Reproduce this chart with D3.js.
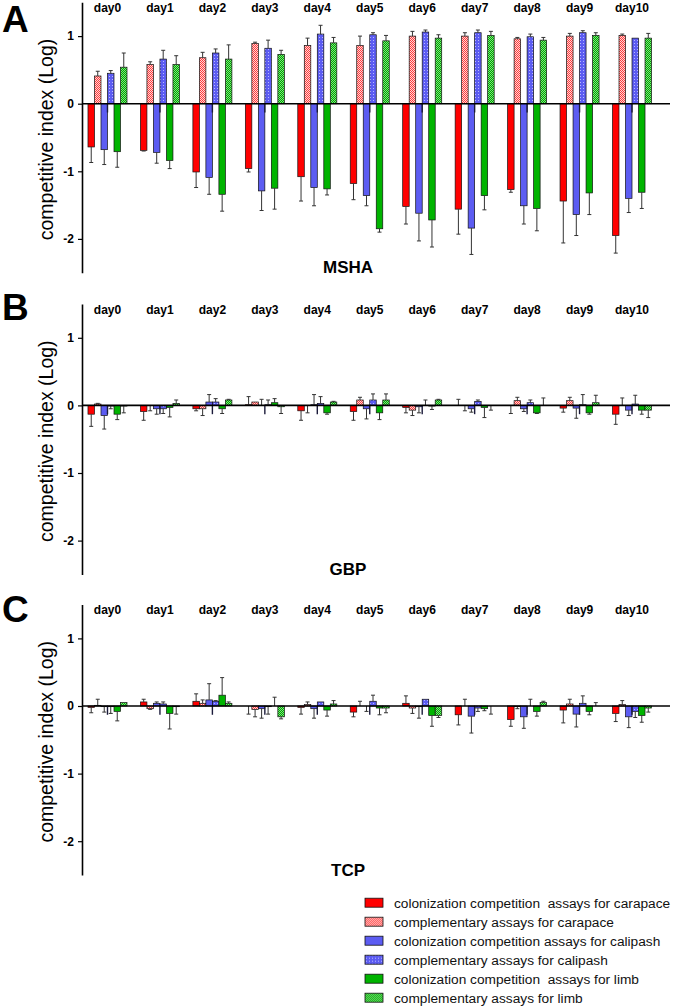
<!DOCTYPE html>
<html>
<head>
<meta charset="utf-8">
<script src="https://cdn.jsdelivr.net/npm/d3@7"></script>
<style>
  body { margin: 0; background: #fff; }
  svg { font-family: "Liberation Sans", Arial, sans-serif; }
  .legend text { white-space: pre; }
</style>
</head>
<body>
<svg id="chart" width="680" height="1008"></svg>
<script>
var days = ["day0", "day1", "day2", "day3", "day4", "day5", "day6", "day7", "day8", "day9", "day10"];
var yTicks = [1, 0, -1, -2];

var seriesNames = [
    "colonization competition  assays for carapace",
    "complementary assays for carapace",
    "colonization competition assays for calipash",
    "complementary assays for calipash",
    "colonization competition  assays for limb",
    "complementary assays for limb"
];

// rows: carapace, carapace compl., calipash, calipash compl., limb, limb compl.
var mshaMean = [
    [-0.64, -0.69, -1.01, -0.96, -1.08, -1.18, -1.52, -1.56, -1.27, -1.44, -1.95],
    [0.41, 0.58, 0.68, 0.89, 0.86, 0.86, 1.00, 1.00, 0.96, 1.00, 1.01],
    [-0.68, -0.72, -1.09, -1.29, -1.24, -1.36, -1.62, -1.84, -1.51, -1.64, -1.40],
    [0.45, 0.66, 0.75, 0.82, 1.03, 1.02, 1.06, 1.05, 0.99, 1.05, 0.97],
    [-0.71, -0.84, -1.34, -1.25, -1.26, -1.85, -1.72, -1.36, -1.55, -1.32, -1.31],
    [0.54, 0.58, 0.66, 0.73, 0.90, 0.93, 0.97, 1.01, 0.94, 1.01, 0.97]
];
// end of each error bar
var mshaErr = [
    [-0.87, -0.70, -1.24, -1.01, -1.44, -1.42, -1.78, -1.93, -1.31, -2.06, -2.21],
    [0.48, 0.62, 0.76, 0.91, 0.97, 1.00, 1.07, 1.05, 0.98, 1.04, 1.03],
    [-0.90, -0.88, -1.34, -1.58, -1.51, -1.51, -2.03, -2.23, -1.78, -1.95, -1.61],
    [0.49, 0.79, 0.81, 0.94, 1.16, 1.05, 1.09, 1.09, 1.03, 1.08, 0.97],
    [-0.94, -0.96, -1.59, -1.56, -1.35, -1.90, -2.12, -1.57, -1.88, -1.64, -1.55],
    [0.75, 0.71, 0.87, 0.79, 0.98, 1.01, 1.02, 1.07, 0.98, 1.05, 1.04]
];

var gbpMean = [
    [-0.13, -0.09, -0.05, 0.01, -0.08, -0.09, -0.03, 0.00, 0.00, -0.04, -0.13],
    [0.02, 0.00, -0.05, 0.05, 0.00, 0.08, -0.07, 0.00, 0.07, 0.07, 0.00],
    [-0.15, -0.05, 0.05, 0.00, 0.01, -0.05, -0.02, -0.05, -0.05, -0.04, -0.07],
    [-0.01, -0.05, 0.05, 0.01, 0.03, 0.08, 0.00, 0.06, 0.04, 0.01, 0.02],
    [-0.13, -0.03, -0.05, 0.04, -0.11, -0.11, -0.01, -0.03, -0.11, -0.11, -0.07],
    [-0.01, 0.03, 0.08, -0.02, 0.05, 0.08, 0.08, 0.00, 0.00, 0.04, -0.07]
];
var gbpErr = [
    [-0.31, -0.22, -0.08, 0.13, -0.22, -0.22, -0.11, 0.09, -0.12, -0.10, -0.28],
    [0.03, -0.08, -0.15, 0.05, -0.11, 0.12, -0.15, -0.08, 0.12, 0.12, 0.11],
    [-0.35, -0.13, 0.16, 0.09, 0.16, -0.20, -0.11, -0.10, -0.09, -0.19, -0.15],
    [-0.05, -0.12, 0.10, 0.08, 0.13, 0.17, 0.08, 0.08, 0.08, 0.16, 0.15],
    [-0.21, -0.17, -0.12, 0.10, -0.13, -0.21, -0.06, -0.18, -0.12, -0.13, -0.13],
    [-0.11, 0.08, 0.09, -0.12, 0.06, 0.17, 0.09, -0.07, 0.11, 0.15, -0.18]
];

var tcpMean = [
    [-0.02, 0.06, 0.07, 0.00, -0.02, -0.09, 0.04, -0.13, -0.20, -0.06, -0.11],
    [0.01, -0.04, 0.04, -0.05, 0.02, 0.00, -0.03, 0.00, -0.01, 0.03, 0.02],
    [-0.01, 0.04, 0.09, -0.04, -0.04, 0.00, -0.01, -0.15, -0.16, -0.12, -0.16],
    [-0.01, 0.03, 0.07, -0.01, 0.06, 0.07, 0.10, -0.03, 0.00, 0.04, -0.08],
    [-0.08, -0.11, 0.16, 0.00, -0.06, -0.03, -0.14, -0.04, -0.08, -0.08, -0.14],
    [0.05, -0.01, 0.04, -0.16, 0.03, -0.03, -0.14, 0.00, 0.05, 0.00, -0.03]
];
var tcpErr = [
    [-0.10, 0.10, 0.18, -0.12, -0.12, -0.16, 0.15, -0.28, -0.30, -0.25, -0.23],
    [0.10, -0.05, 0.09, -0.16, 0.06, 0.07, -0.11, 0.10, -0.04, 0.10, 0.08],
    [-0.09, 0.06, 0.33, -0.18, -0.18, -0.08, -0.18, -0.40, -0.33, -0.31, -0.32],
    [-0.11, 0.06, 0.08, -0.12, 0.06, 0.16, 0.10, -0.08, 0.10, 0.15, -0.17],
    [-0.22, -0.34, 0.42, 0.13, -0.15, -0.13, -0.30, -0.07, -0.15, -0.13, -0.24],
    [0.05, -0.12, 0.06, -0.19, 0.08, -0.10, -0.17, -0.12, 0.07, 0.05, -0.09]
];

var panels = [
    { letter: "A", title: "MSHA", mean: mshaMean, err: mshaErr, top: 2.3, letterY: 32 },
    { letter: "B", title: "GBP", mean: gbpMean, err: gbpErr, top: 304, letterY: 320 },
    { letter: "C", title: "TCP", mean: tcpMean, err: tcpErr, top: 604.6, letterY: 622 }
];

var fills = ["#ff0000", "url(#pPink)", "#5c5cf2", "url(#pBlue)", "#00b400", "url(#pGreen)"];

var svg = d3.select("#chart");
var panelH = 270.4;
var axisX = 82;

makePatterns();

var x = d3.scaleBand()
    .domain(days)
    .range([axisX, 657.5])
    .paddingInner(0.256)
    .paddingOuter(0.114);

var xs = d3.scaleBand()
    .domain(d3.range(seriesNames.length))
    .range([0, x.bandwidth()]);

panels.forEach(drawPanel);
drawLegend();

function makePatterns() {
    var defs = svg.append("defs");

    var pink = defs.append("pattern").attr("id", "pPink")
        .attr("patternUnits", "userSpaceOnUse").attr("width", 2).attr("height", 2);
    pink.append("rect").attr("width", 2).attr("height", 2).attr("fill", "#ffd6d6");
    pink.append("rect").attr("width", 1).attr("height", 1).attr("fill", "#ff3b3b");
    pink.append("rect").attr("x", 1).attr("y", 1).attr("width", 1).attr("height", 1).attr("fill", "#ff3b3b");

    var blue = defs.append("pattern").attr("id", "pBlue")
        .attr("patternUnits", "userSpaceOnUse").attr("width", 3).attr("height", 3);
    blue.append("rect").attr("width", 3).attr("height", 3).attr("fill", "#5c5cf2");
    blue.append("rect").attr("x", 1).attr("y", 1).attr("width", 1).attr("height", 1).attr("fill", "#b8b8ff");

    var green = defs.append("pattern").attr("id", "pGreen")
        .attr("patternUnits", "userSpaceOnUse").attr("width", 2).attr("height", 2);
    green.append("rect").attr("width", 2).attr("height", 2).attr("fill", "#00a800");
    green.append("rect").attr("width", 1).attr("height", 1).attr("fill", "#7ee07e");
    green.append("rect").attr("x", 1).attr("y", 1).attr("width", 1).attr("height", 1).attr("fill", "#7ee07e");
}

function drawPanel(panel) {
    var y = d3.scaleLinear()
        .domain([-2.5, 1.5])
        .range([panel.top + panelH, panel.top]);

    var g = svg.append("g").classed("panel", true);

    // y axis
    var axis = g.append("g")
        .attr("transform", "translate(" + axisX + ",0)")
        .call(d3.axisLeft(y).tickValues(yTicks).tickSize(4).tickSizeOuter(0).tickFormat(d => String(d)));
    axis.select(".domain").attr("stroke-width", 1.6);
    axis.selectAll(".tick line").attr("stroke-width", 1.2);
    axis.selectAll(".tick text")
        .attr("font-family", "Liberation Sans, Arial, sans-serif")
        .attr("font-size", 12)
        .attr("font-weight", "bold")
        .attr("x", -8);

    g.append("text")
        .attr("transform", "translate(53," + (panel.top + panelH / 2 + 2) + ") rotate(-90)")
        .attr("text-anchor", "middle")
        .attr("font-size", 19.5)
        .text("competitive index (Log)");

    g.append("text")
        .attr("x", 2)
        .attr("y", panel.letterY)
        .attr("font-size", 37)
        .attr("font-weight", "bold")
        .text(panel.letter);

    g.selectAll(".dayLabel")
        .data(days)
        .enter()
        .append("text")
        .classed("dayLabel", true)
        .attr("x", d => x(d) + x.bandwidth() / 2)
        .attr("y", panel.top + 9.8)
        .attr("text-anchor", "middle")
        .attr("font-size", 12)
        .attr("font-weight", "bold")
        .text(d => d);

    g.append("text")
        .attr("x", 348)
        .attr("y", panel.top + 271)
        .attr("text-anchor", "middle")
        .attr("font-size", 17)
        .attr("font-weight", "bold")
        .text(panel.title);

    var cells = [];
    panel.mean.forEach((row, s) => {
        row.forEach((v, i) => {
            cells.push({ s: s, day: days[i], v: v, e: panel.err[s][i] });
        });
    });

    var bw = xs.bandwidth();

    g.selectAll(".bar")
        .data(cells)
        .enter()
        .append("rect")
        .classed("bar", true)
        .attr("x", d => x(d.day) + xs(d.s))
        .attr("width", bw)
        .attr("y", d => y(Math.max(0, d.v)))
        .attr("height", d => Math.abs(y(d.v) - y(0)))
        .attr("fill", d => fills[d.s])
        .attr("stroke", "#111")
        .attr("stroke-width", 0.7);

    // thin dark stub that shows under every calipash pair in the source figure
    g.selectAll(".stub")
        .data(days)
        .enter()
        .append("line")
        .classed("stub", true)
        .attr("x1", d => x(d) + xs(3))
        .attr("x2", d => x(d) + xs(3))
        .attr("y1", y(0))
        .attr("y2", y(-0.13))
        .attr("stroke", "#1a1a3a")
        .attr("stroke-width", 1.4);

    var errs = g.selectAll(".err")
        .data(cells.filter(d => d.e !== d.v))
        .enter()
        .append("g")
        .classed("err", true)
        .attr("stroke", "#333")
        .attr("stroke-width", 1);

    errs.append("line")
        .attr("x1", d => x(d.day) + xs(d.s) + bw / 2)
        .attr("x2", d => x(d.day) + xs(d.s) + bw / 2)
        .attr("y1", d => y(d.v))
        .attr("y2", d => y(d.e));

    errs.append("line")
        .attr("x1", d => x(d.day) + xs(d.s) + bw / 2 - 2)
        .attr("x2", d => x(d.day) + xs(d.s) + bw / 2 + 2)
        .attr("y1", d => y(d.e))
        .attr("y2", d => y(d.e));

    g.append("line")
        .attr("x1", axisX)
        .attr("x2", 670)
        .attr("y1", y(0))
        .attr("y2", y(0))
        .attr("stroke", "#000")
        .attr("stroke-width", 1.6);
}

function drawLegend() {
    var rows = svg.append("g")
        .classed("legend", true)
        .selectAll(".row")
        .data(seriesNames)
        .enter()
        .append("g")
        .classed("row", true)
        .attr("transform", (d, i) => "translate(365," + (902.7 + i * 19) + ")");

    rows.append("rect")
        .attr("x", 0)
        .attr("y", -4.5)
        .attr("width", 18)
        .attr("height", 9)
        .attr("fill", (d, i) => fills[i])
        .attr("stroke", "#111")
        .attr("stroke-width", 0.8);

    rows.append("text")
        .attr("x", 29)
        .attr("y", 5)
        .attr("font-size", 13.7)
        .attr("fill", "#111")
        .text(d => d);
}
</script>
</body>
</html>
